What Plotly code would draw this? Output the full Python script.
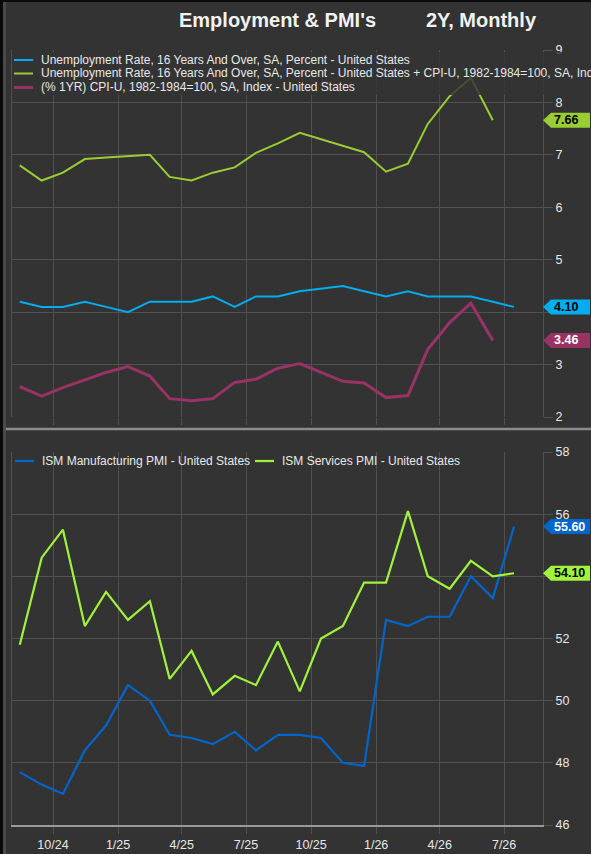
import pandas as pd
import plotly.graph_objects as go

# ---------------- data ----------------
months = pd.date_range('2024-08-01', periods=24, freq='MS') + pd.Timedelta(days=14)

# top panel (Oct-2025 missing -> gap bridged)
unemployment = [4.2, 4.1, 4.1, 4.2, 4.1, 4.0, 4.2, 4.2, 4.2, 4.3, 4.1, 4.3,
                4.3, 4.4, None, 4.5, 4.4, 4.3, 4.4, 4.3, 4.3, 4.3, 4.2, 4.1]
unemp_plus_cpi = [6.80, 6.51, 6.66, 6.92, 6.95, 6.97, 7.00, 6.58, 6.51, 6.66, 6.76, 7.04,
                  7.22, 7.42, None, 7.18, 7.05, 6.68, 6.83, 7.59, 8.12, 8.47, 7.66]
cpi_yoy = [2.58, 2.40, 2.56, 2.70, 2.85, 2.96, 2.78, 2.35, 2.31, 2.35, 2.66, 2.72,
           2.93, 3.02, None, 2.68, 2.65, 2.37, 2.41, 3.29, 3.80, 4.17, 3.46]

# bottom panel
ism_mfg = [47.7, 47.3, 47.0, 48.4, 49.2, 50.5, 50.0, 48.9, 48.8, 48.6, 49.0, 48.4,
           48.9, 48.9, 48.8, 48.0, 47.9, 52.6, 52.4, 52.7, 52.7, 54.0, 53.3, 55.6]
ism_svc = [51.8, 54.6, 55.5, 52.4, 53.5, 52.6, 53.2, 50.7, 51.6, 50.2, 50.8, 50.5,
           51.9, 50.3, 52.0, 52.4, 53.8, 53.8, 56.1, 54.0, 53.6, 54.5, 54.0, 54.1]

top_ticks = [2, 3, 4, 5, 6, 7, 8, 9]
bot_ticks = [46, 48, 50, 52, 54, 56, 58]
hidden_ticks = [4, 54]  # sit under the last-value tags

names = {
    'unemp': 'Unemployment Rate, 16 Years And Over, SA, Percent - United States',
    'sum': 'Unemployment Rate, 16 Years And Over, SA, Percent - United States'
           ' + CPI-U, 1982-1984=100, SA, Index - United States',
    'cpi': '(% 1YR) CPI-U, 1982-1984=100, SA, Index - United States',
    'mfg': 'ISM Manufacturing PMI - United States',
    'svc': 'ISM Services PMI - United States',
}

# ---------------- style ----------------
W, H = 591, 854
ML, MR, MT, MB = 12, 48, 50, 29
BG = '#333333'
GRID = '#505050'
TXT = '#e8e8e8'
FONT = 'Liberation Sans, Arial, sans-serif'
c = {
    'unemp': '#00adef',
    'sum': '#9acd32',
    'cpi': '#993366',
    'mfg': '#0066cc',
    'svc': '#a0f23c',
}
widths = {'unemp': 2, 'sum': 2, 'cpi': 3, 'mfg': 2.2, 'svc': 2.2}


def px_x(p):
    return (p - ML) / (W - ML - MR)


def px_y(p):
    return (H - MB - p) / (H - MT - MB)


x_range = ['2024-08-04', '2026-08-25']

fig = go.Figure()

fig.add_trace(go.Scatter(x=months, y=unemployment, name=names['unemp'], mode='lines',
                         connectgaps=True, line=dict(color=c['unemp'], width=widths['unemp']),
                         xaxis='x', yaxis='y'))
fig.add_trace(go.Scatter(x=months[:23], y=unemp_plus_cpi, name=names['sum'], mode='lines',
                         connectgaps=True, line=dict(color=c['sum'], width=widths['sum']),
                         xaxis='x', yaxis='y'))
fig.add_trace(go.Scatter(x=months[:23], y=cpi_yoy, name=names['cpi'], mode='lines',
                         connectgaps=True, line=dict(color=c['cpi'], width=widths['cpi']),
                         xaxis='x', yaxis='y'))
fig.add_trace(go.Scatter(x=months, y=ism_mfg, name=names['mfg'], mode='lines',
                         line=dict(color=c['mfg'], width=widths['mfg']),
                         xaxis='x2', yaxis='y2'))
fig.add_trace(go.Scatter(x=months, y=ism_svc, name=names['svc'], mode='lines',
                         line=dict(color=c['svc'], width=widths['svc']),
                         xaxis='x2', yaxis='y2'))

axis_common = dict(gridcolor=GRID, gridwidth=1, zeroline=False,
                   tickfont=dict(family=FONT, size=12.5, color=TXT),
                   ticks='outside', tickcolor=GRID)

top_dom = [px_y(417), 1.0]
bot_dom = [0.0, px_y(452)]

fig.update_layout(
    width=W, height=H,
    margin=dict(l=ML, r=MR, t=MT, b=MB, autoexpand=False),
    paper_bgcolor=BG, plot_bgcolor=BG,
    font=dict(family=FONT, color=TXT),
    showlegend=False,
    xaxis=dict(axis_common, anchor='y', type='date', range=x_range, dtick='M3',
               tick0='2024-01-01', showticklabels=False, ticklen=7,
               showline=False),
    yaxis=dict(axis_common, domain=top_dom, anchor='x', side='right', range=[2, 9],
               tickvals=top_ticks,
               ticktext=['' if t in hidden_ticks else str(t) for t in top_ticks],
               ticklen=9, showline=True, linecolor=GRID, mirror=True),
    xaxis2=dict(axis_common, anchor='y2', type='date', range=x_range, dtick='M3',
                tick0='2024-01-01', tickformat='%-m/%y', ticklen=7,
                showline=True, linecolor='#9a9a9a', linewidth=1.5),
    yaxis2=dict(axis_common, domain=bot_dom, anchor='x2', side='right', range=[46, 58],
                tickvals=bot_ticks,
                ticktext=['' if t in hidden_ticks else str(t) for t in bot_ticks],
                ticklen=9, showline=True, linecolor=GRID, mirror=True),
    hovermode='x unified',
)

# title
for txt, cx in [("<b>Employment &amp; PMI's</b>", 277.5), ('<b>2Y, Monthly</b>', 481.5)]:
    fig.add_annotation(text=txt, xref='paper', yref='paper', x=px_x(cx), y=px_y(20),
                       xanchor='center', yanchor='middle', showarrow=False,
                       font=dict(family=FONT, size=20, color='#f2f2f2'))

# frame decorations: left edge strips, top edge, panel separator
fig.add_shape(type='rect', xref='paper', yref='paper', x0=px_x(0), x1=px_x(3),
              y0=px_y(H), y1=px_y(0), fillcolor='#0a0a0a', line_width=0, layer='above')
fig.add_shape(type='rect', xref='paper', yref='paper', x0=px_x(3), x1=px_x(6),
              y0=px_y(H), y1=px_y(0), fillcolor='#4a4a4a', line_width=0, layer='above')
fig.add_shape(type='rect', xref='paper', yref='paper', x0=px_x(0), x1=px_x(W),
              y0=px_y(2), y1=px_y(0), fillcolor='#0a0a0a', line_width=0, layer='above')
fig.add_shape(type='line', xref='paper', yref='paper', x0=px_x(6), x1=px_x(W),
              y0=px_y(429), y1=px_y(429), line=dict(color='#8c8c8c', width=2.5))

# legends (drawn by hand to get the tight terminal-style spacing)
fig.add_shape(type='rect', xref='paper', yref='paper', x0=px_x(12.5), x1=px_x(W),
              y0=px_y(95), y1=px_y(52), fillcolor='rgba(51,51,51,0.82)', line_width=0,
              layer='above')


def legend_entry(x_px, y_px, key):
    fig.add_shape(type='line', xref='paper', yref='paper', x0=px_x(x_px), x1=px_x(x_px + 19),
                  y0=px_y(y_px), y1=px_y(y_px), line=dict(color=c[key], width=widths[key]),
                  layer='above')
    fig.add_annotation(text=names[key], xref='paper', yref='paper', x=px_x(x_px + 25),
                       y=px_y(y_px), xanchor='left', yanchor='middle', showarrow=False,
                       font=dict(family=FONT, size=12, color=TXT))


legend_entry(14, 60, 'unemp')
legend_entry(14, 73.5, 'sum')
legend_entry(14, 87.5, 'cpi')
legend_entry(15, 461, 'mfg')
legend_entry(255, 461, 'svc')

# last-value tags on the right axis
tags = [
    ('y', unemployment[-1], c['unemp'], '#000000'),
    ('y', unemp_plus_cpi[-1], c['sum'], '#000000'),
    ('y', cpi_yoy[-1], c['cpi'], '#ffffff'),
    ('y2', ism_mfg[-1], c['mfg'], '#ffffff'),
    ('y2', ism_svc[-1], c['svc'], '#000000'),
]
for yref, val, bg, fg in tags:
    fig.add_shape(type='path', xref='paper', yref=yref, xsizemode='pixel', ysizemode='pixel',
                  xanchor=1, yanchor=val,
                  path='M0,0 L8,7.5 L47,7.5 L47,-7.5 L8,-7.5 Z',
                  fillcolor=bg, line_width=0, layer='above')
    fig.add_annotation(text=f'<b>{val:.2f}</b>', xref='paper', yref=yref, x=1, y=val,
                       xanchor='left', yanchor='middle', xshift=9, showarrow=False,
                       font=dict(family=FONT, size=12.5, color=fg))

# page has a default body margin; drop it so the chart fills the window
fig.write_html('out.html', config={'displayModeBar': False},
               post_script="document.body.style.margin='0';"
                           "document.body.style.overflow='hidden';")
